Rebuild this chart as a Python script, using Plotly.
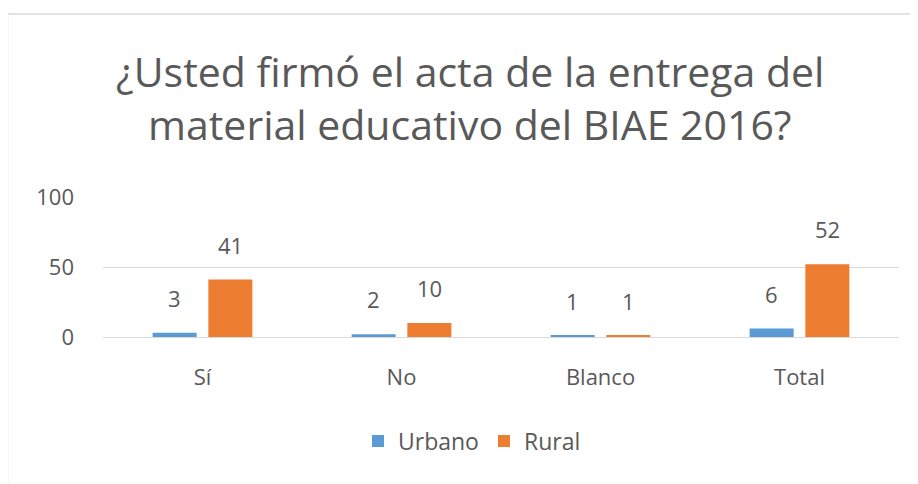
import plotly.graph_objects as go

categories = ["Sí", "No", "Blanco", "Total"]
urbano = [3, 2, 1, 6]
rural = [41, 10, 1, 52]
series_names = ["Urbano", "Rural"]
title_lines = ["¿Usted firmó el acta de la entrega del", "material educativo del BIAE 2016?"]

# page body has an 8px margin; work in reference pixel coordinates and convert
OFF = 8
W, H = 910, 476
PLOT_L, PLOT_R, PLOT_T, PLOT_B = 103, 899, 197, 337  # reference pixel coords
ML = PLOT_L - OFF
MR = W - (PLOT_R - OFF)
MT = PLOT_T - OFF
MB = H - (PLOT_B - OFF)
FONT = "Open Sans"
GRAY = "#595959"
BLUE = "#5B9BD5"
ORANGE = "#ED7D31"

pw = PLOT_R - PLOT_L
ph = PLOT_B - PLOT_T
def px(x):
    return (x - PLOT_L) / pw
def py(y):
    return (PLOT_B - y) / ph

fig = go.Figure()
fig.add_trace(go.Bar(x=categories, y=urbano, name=series_names[0], marker_color=BLUE,
                     marker_line_width=0))
fig.add_trace(go.Bar(x=categories, y=rural, name=series_names[1], marker_color=ORANGE,
                     marker_line_width=0))

annotations = []
for vals, shift in ((urbano, -28), (rural, 28)):
    for c, v in zip(categories, vals):
        annotations.append(dict(x=c, y=v, xref="x", yref="y", text=str(v), showarrow=False,
                                xshift=shift, yshift=18, yanchor="bottom",
                                font=dict(family=FONT, size=22, color=GRAY)))
for line, yc in zip(title_lines, (71, 124)):
    annotations.append(dict(x=px(470), y=py(yc), xref="paper", yref="paper", text=line,
                            showarrow=False, xanchor="center", yanchor="middle",
                            font=dict(family=FONT, size=41, color=GRAY)))

fig.update_layout(
    width=W, height=H,
    margin=dict(l=ML, r=MR, t=MT, b=MB),
    paper_bgcolor="white", plot_bgcolor="white",
    barmode="group", bargap=0.44, bargroupgap=0.21,
    font=dict(family=FONT, color=GRAY),
    showlegend=True,
    legend=dict(orientation="h", x=px(472), xanchor="center", y=py(441), yanchor="middle",
                font=dict(family=FONT, size=23, color=GRAY), itemwidth=30,
                traceorder="normal"),
    annotations=annotations,
    shapes=[dict(type="rect", xref="paper", yref="paper",
                 x0=px(7.5), x1=px(940), y0=py(14), y1=py(520),
                 line=dict(color="#D9D9D9", width=1.5), fillcolor="rgba(0,0,0,0)", layer="below")],
)
fig.update_xaxes(showgrid=False, showline=True, linecolor="#D9D9D9", linewidth=1,
                 ticks="", tickfont=dict(family=FONT, size=22, color=GRAY),
                 ticklabelstandoff=21)
fig.update_yaxes(range=[0, 100], tickvals=[0, 50, 100], showgrid=True, gridcolor="#D9D9D9",
                 gridwidth=1, zeroline=False, showline=False, ticks="",
                 tickfont=dict(family=FONT, size=22, color=GRAY), ticklabelstandoff=28)

fig.write_html("out.html")
